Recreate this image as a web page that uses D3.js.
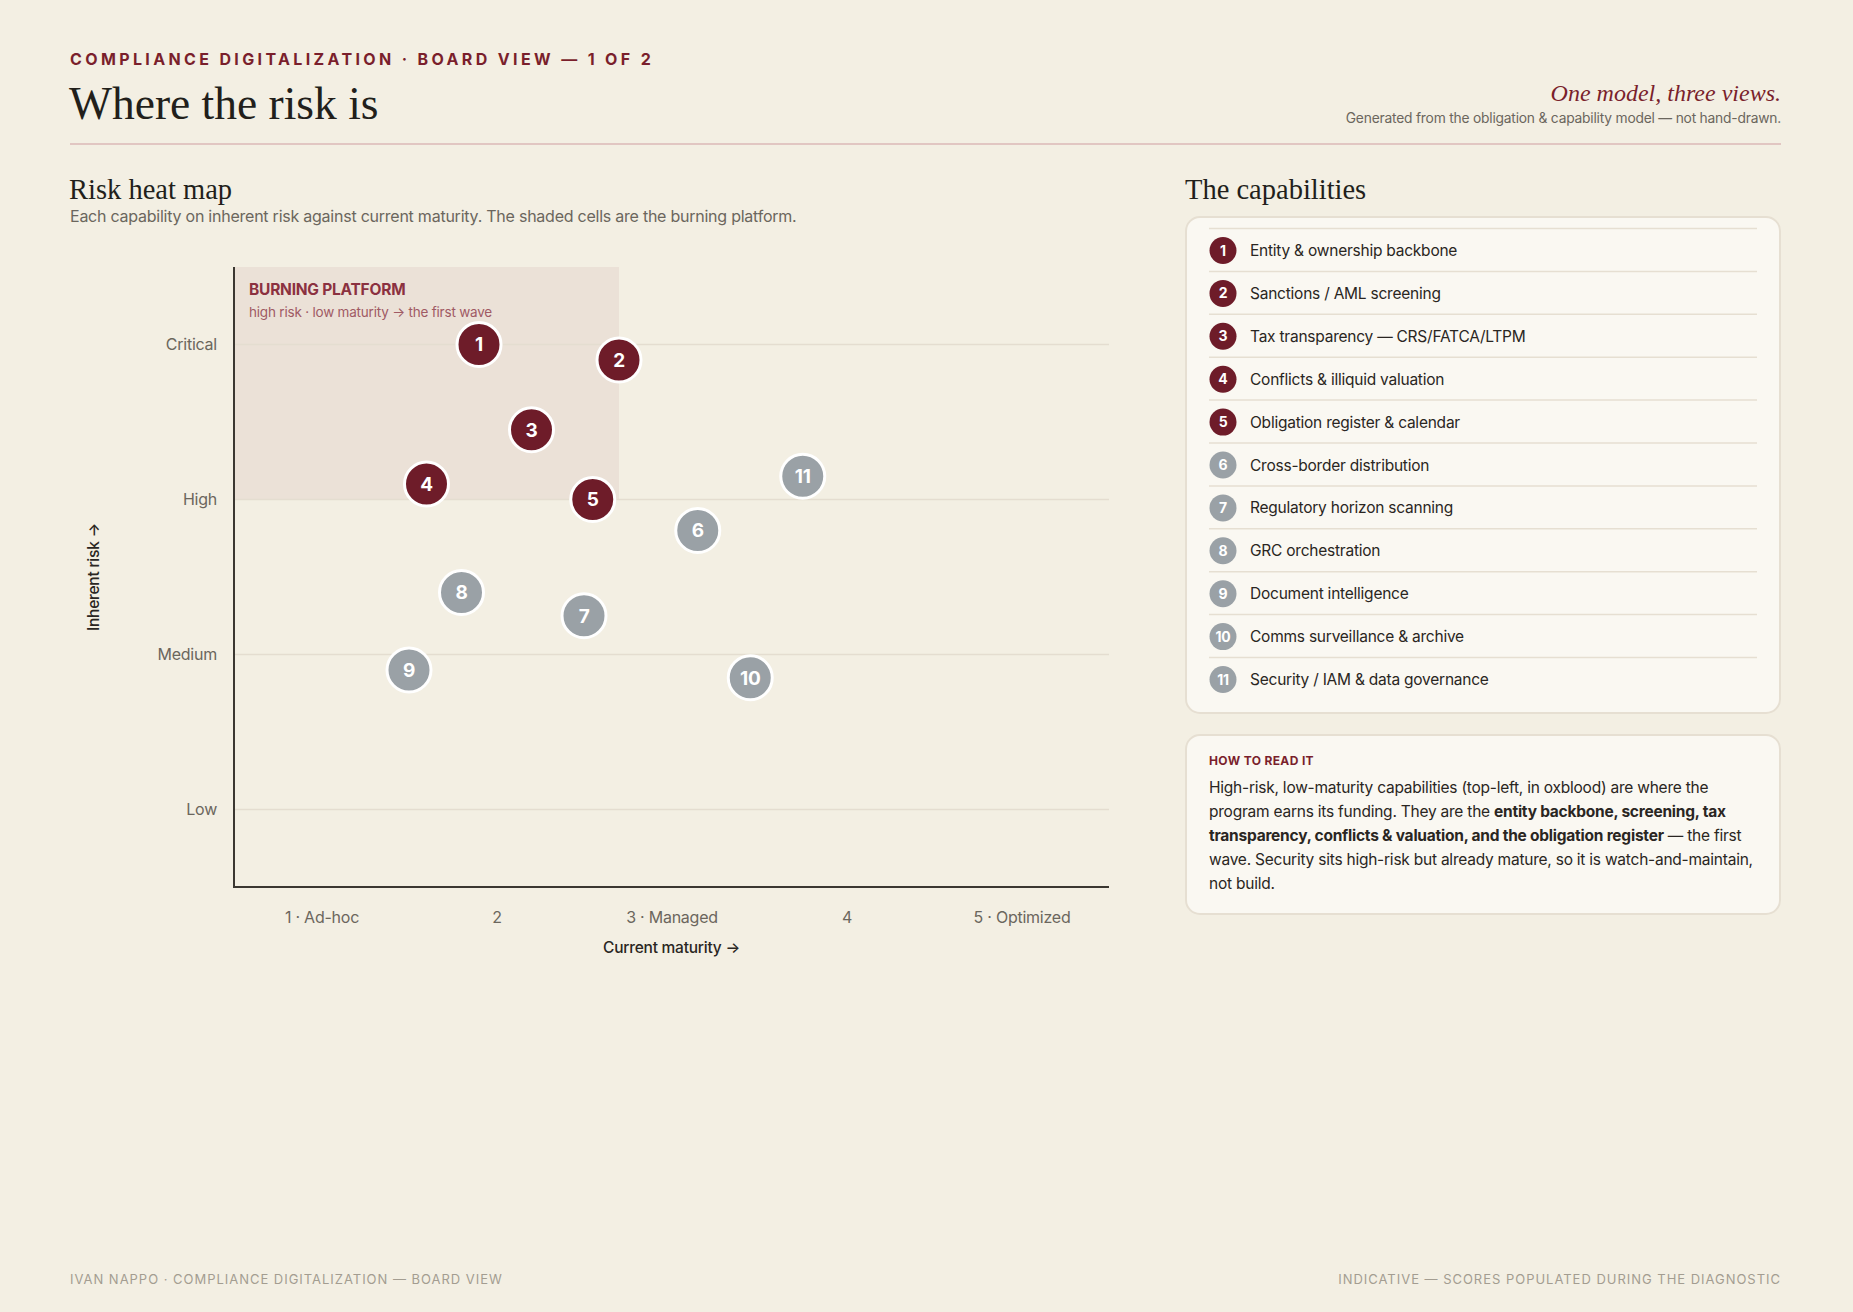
<!DOCTYPE html>
<html>
<head>
<meta charset="utf-8">
<script src="https://cdn.jsdelivr.net/npm/d3@7"></script>
<style>
  html, body { margin: 0; padding: 0; background: #f3efe3; }
  svg { display: block; }
  .sans { font-family: Inter, "Noto Sans", sans-serif; letter-spacing: -0.015em; }
  .serif { font-family: "Liberation Serif", "DejaVu Serif", serif; }
</style>
</head>
<body>
<div id="page"></div>
<script>
// capabilities, in list order
var capabilities = [
  'Entity & ownership backbone',
  'Sanctions / AML screening',
  'Tax transparency \u2014 CRS/FATCA/LTPM',
  'Conflicts & illiquid valuation',
  'Obligation register & calendar',
  'Cross-border distribution',
  'Regulatory horizon scanning',
  'GRC orchestration',
  'Document intelligence',
  'Comms surveillance & archive',
  'Security / IAM & data governance'
];
var maturity = [1.9, 2.7, 2.2, 1.6, 2.55, 3.15, 2.5, 1.8, 1.5, 3.45, 3.75];
var risk = [4.0, 3.9, 3.45, 3.1, 3.0, 2.8, 2.25, 2.4, 1.9, 1.85, 3.15];
var firstWave = [true, true, true, true, true, false, false, false, false, false, false];

var riskLabels = ['Low', 'Medium', 'High', 'Critical'];
var maturityLabels = ['1 \u00b7 Ad-hoc', '2', '3 \u00b7 Managed', '4', '5 \u00b7 Optimized'];
var burningZone = { maturityMax: 2.7, riskMin: 3 };

var OXBLOOD = '#6e1c29';
var GREY = '#9aa1a6';
var INK = '#2a2622';
var MUTED = '#6b665d';

var W = 1853, H = 1312;
var svg = d3.select('#page').append('svg')
  .attr('width', W).attr('height', H);

svg.append('rect').attr('width', W).attr('height', H).attr('fill', '#f3efe3');

// ---- header
svg.append('text').attr('class', 'sans')
  .attr('x', 70).attr('y', 65)
  .style('font-size', '16px').style('font-weight', 700)
  .style('letter-spacing', '0.21em')
  .attr('fill', '#7a1f2c')
  .text('COMPLIANCE DIGITALIZATION \u00b7 BOARD VIEW \u2014 1 OF 2');

svg.append('text').attr('class', 'serif')
  .attr('x', 69).attr('y', 119)
  .style('font-size', '45.5px')
  .attr('fill', '#221f1b')
  .text('Where the risk is');

svg.append('text').attr('class', 'serif')
  .attr('x', 1781).attr('y', 101)
  .attr('text-anchor', 'end')
  .style('font-size', '24px').style('font-style', 'italic')
  .attr('fill', '#7a1f2c')
  .text('One model, three views.');

svg.append('text').attr('class', 'sans')
  .attr('x', 1781).attr('y', 123)
  .attr('text-anchor', 'end')
  .style('font-size', '13.8px')
  .attr('fill', MUTED)
  .text('Generated from the obligation & capability model \u2014 not hand-drawn.');

svg.append('line')
  .attr('x1', 70).attr('x2', 1781).attr('y1', 144).attr('y2', 144)
  .attr('stroke', '#dbb9b7').attr('stroke-width', 1.5);

// ---- chart section titles
svg.append('text').attr('class', 'serif')
  .attr('x', 69).attr('y', 199)
  .style('font-size', '28.5px')
  .attr('fill', '#221f1b')
  .text('Risk heat map');

svg.append('text').attr('class', 'sans')
  .attr('x', 70).attr('y', 222)
  .style('font-size', '16px')
  .attr('fill', MUTED)
  .text('Each capability on inherent risk against current maturity. The shaded cells are the burning platform.');

// ---- scales
var x = d3.scaleLinear().domain([0.5, 5.5]).range([234, 1109]);
var y = d3.scaleLinear().domain([0.5, 4.5]).range([887, 267]);

var plot = svg.append('g');

// burning platform
plot.append('rect')
  .attr('x', x(0.5)).attr('y', y(4.5))
  .attr('width', x(burningZone.maturityMax) - x(0.5))
  .attr('height', y(burningZone.riskMin) - y(4.5))
  .attr('fill', '#ebe1d7');

plot.append('text').attr('class', 'sans')
  .attr('x', x(0.5) + 15).attr('y', y(4.5) + 28)
  .style('font-size', '15.5px').style('font-weight', 700)
  .attr('fill', '#8b3140')
  .text('BURNING PLATFORM');
plot.append('text').attr('class', 'sans')
  .attr('x', x(0.5) + 15).attr('y', y(4.5) + 50)
  .style('font-size', '13.5px')
  .attr('fill', '#a05a64')
  .text('high risk \u00b7 low maturity \u2192 the first wave');

// gridlines
plot.selectAll('line.grid')
  .data(d3.range(1, riskLabels.length + 1))
  .enter().append('line')
  .attr('class', 'grid')
  .attr('x1', x(0.5)).attr('x2', x(5.5))
  .attr('y1', function (d) { return y(d); })
  .attr('y2', function (d) { return y(d); })
  .attr('stroke', '#e4ddd0').attr('stroke-width', 1.5);

// y axis
var yAxis = plot.append('g')
  .attr('transform', 'translate(' + x(0.5) + ',0)')
  .call(d3.axisLeft(y)
    .tickValues(d3.range(1, riskLabels.length + 1))
    .tickSize(0).tickPadding(17)
    .tickFormat(function (d) { return riskLabels[d - 1]; }));
yAxis.select('.domain').remove();
yAxis.selectAll('text')
  .attr('class', 'sans')
  .style('font-size', '16px')
  .attr('fill', MUTED);

// x axis
var xAxis = plot.append('g')
  .attr('transform', 'translate(0,' + y(0.5) + ')')
  .call(d3.axisBottom(x)
    .tickValues(d3.range(1, maturityLabels.length + 1))
    .tickSize(0).tickPadding(25)
    .tickFormat(function (d) { return maturityLabels[d - 1]; }));
xAxis.select('.domain').remove();
xAxis.selectAll('text')
  .attr('class', 'sans')
  .style('font-size', '16px')
  .attr('fill', MUTED);

// axis lines
plot.append('path')
  .attr('d', 'M' + x(0.5) + ',' + y(4.5) + 'V' + y(0.5) + 'H' + x(5.5))
  .attr('fill', 'none')
  .attr('stroke', '#3b3731').attr('stroke-width', 2);

plot.append('text').attr('class', 'sans')
  .attr('x', (x(0.5) + x(5.5)) / 2).attr('y', 953)
  .attr('text-anchor', 'middle')
  .style('font-size', '15.5px').style('font-weight', 500)
  .attr('fill', INK)
  .text('Current maturity \u2192');

plot.append('text').attr('class', 'sans')
  .attr('transform', 'translate(99,' + ((y(0.5) + y(4.5)) / 2) + ') rotate(-90)')
  .attr('text-anchor', 'middle')
  .style('font-size', '15.5px').style('font-weight', 500)
  .attr('fill', INK)
  .text('Inherent risk \u2192');

// points
var pts = plot.selectAll('g.pt')
  .data(capabilities.map(function (c, i) {
    return { id: i + 1, m: maturity[i], r: risk[i], hot: firstWave[i] };
  }))
  .enter().append('g')
  .attr('class', 'pt')
  .attr('transform', function (d) { return 'translate(' + x(d.m) + ',' + y(d.r) + ')'; });

pts.append('circle')
  .attr('r', 22)
  .attr('fill', function (d) { return d.hot ? OXBLOOD : GREY; })
  .attr('stroke', '#ffffff').attr('stroke-width', 3);

pts.append('text').attr('class', 'sans')
  .attr('text-anchor', 'middle').attr('dy', '0.36em')
  .style('font-size', '19px').style('font-weight', 700)
  .attr('fill', '#ffffff')
  .text(function (d) { return d.id; });

// ---- right panel
svg.append('text').attr('class', 'serif')
  .attr('x', 1185).attr('y', 199)
  .style('font-size', '28.5px')
  .attr('fill', '#221f1b')
  .text('The capabilities');

svg.append('rect')
  .attr('x', 1186).attr('y', 217).attr('width', 594).attr('height', 496)
  .attr('rx', 14)
  .attr('fill', '#faf8f2').attr('stroke', '#e6dfd2').attr('stroke-width', 2);

var rowY = d3.scaleLinear().domain([0, 1]).range([250.5, 293.4]);
var rows = svg.selectAll('g.row')
  .data(capabilities)
  .enter().append('g')
  .attr('class', 'row')
  .attr('transform', function (d, i) { return 'translate(0,' + rowY(i) + ')'; });

rows.append('line')
  .attr('x1', 1209).attr('x2', 1757)
  .attr('y1', -22).attr('y2', -22)
  .attr('stroke', '#e6dfd2').attr('stroke-width', 1.5);

rows.append('circle')
  .attr('cx', 1223).attr('r', 13.5)
  .attr('fill', function (d, i) { return firstWave[i] ? OXBLOOD : GREY; });

rows.append('text').attr('class', 'sans')
  .attr('x', 1223).attr('dy', '0.36em')
  .attr('text-anchor', 'middle')
  .style('font-size', '14px').style('font-weight', 700)
  .attr('fill', '#ffffff')
  .text(function (d, i) { return i + 1; });

rows.append('text').attr('class', 'sans')
  .attr('x', 1250).attr('dy', '0.36em')
  .style('font-size', '15.5px')
  .attr('fill', INK)
  .text(function (d) { return d; });

// how to read it
svg.append('rect')
  .attr('x', 1186).attr('y', 735).attr('width', 594).attr('height', 179)
  .attr('rx', 14)
  .attr('fill', '#faf8f2').attr('stroke', '#e6dfd2').attr('stroke-width', 2);

svg.append('text').attr('class', 'sans')
  .attr('x', 1209).attr('y', 765)
  .style('font-size', '12px').style('font-weight', 700)
  .style('letter-spacing', '0.03em')
  .attr('fill', '#7a1f2c')
  .text('HOW TO READ IT');

var para = [
  [['High-risk, low-maturity capabilities (top-left, in oxblood) are where the', false]],
  [['program earns its funding. They are the ', false], ['entity backbone, screening, tax', true]],
  [['transparency, conflicts & valuation, and the obligation register', true], [' \u2014 the first', false]],
  [['wave. Security sits high-risk but already mature, so it is watch-and-maintain,', false]],
  [['not build.', false]]
];
var pText = svg.append('text').attr('class', 'sans')
  .style('font-size', '15.5px')
  .attr('fill', INK);
para.forEach(function (line, i) {
  line.forEach(function (seg, j) {
    var t = pText.append('tspan').text(seg[0])
      .style('font-weight', seg[1] ? 700 : 400);
    if (j === 0) t.attr('x', 1209).attr('y', 793 + i * 24);
  });
});

// ---- footer
svg.append('text').attr('class', 'sans')
  .attr('x', 70).attr('y', 1284)
  .style('font-size', '13px').style('letter-spacing', '0.075em')
  .attr('fill', '#a39d91')
  .text('IVAN NAPPO \u00b7 COMPLIANCE DIGITALIZATION \u2014 BOARD VIEW');

svg.append('text').attr('class', 'sans')
  .attr('x', 1781).attr('y', 1284)
  .attr('text-anchor', 'end')
  .style('font-size', '13px').style('letter-spacing', '0.075em')
  .attr('fill', '#a39d91')
  .text('INDICATIVE \u2014 SCORES POPULATED DURING THE DIAGNOSTIC');
</script>
</body>
</html>
